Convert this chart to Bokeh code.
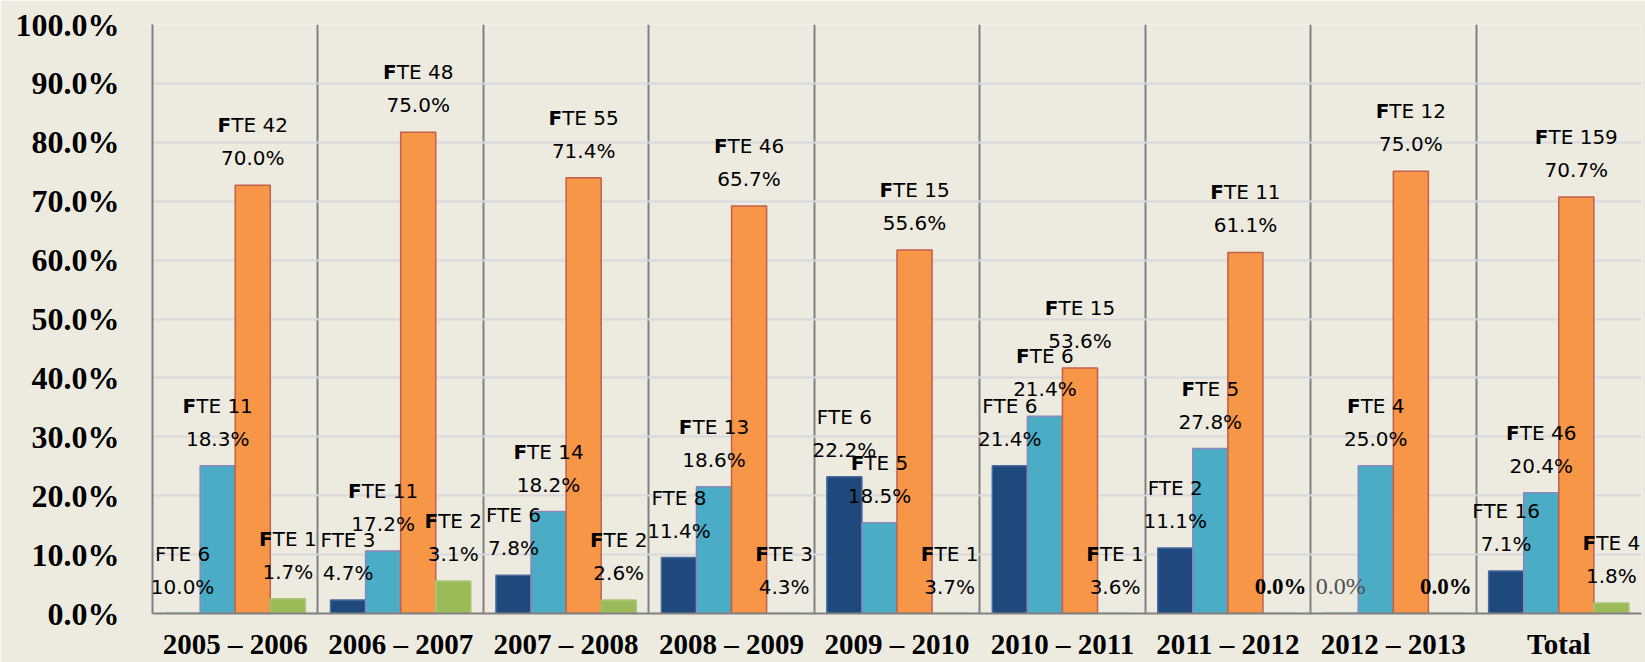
import numpy as np
from bokeh.plotting import figure
from bokeh.models import (ColumnDataSource, LabelSet, Range1d, FixedTicker,
                          PrintfTickFormatter, CustomJSTickFormatter)
from bokeh.core.properties import value
from bokeh.embed import file_html
from bokeh.resources import INLINE

# ---------------- data ----------------
categories = ["2005 – 2006", "2006 – 2007", "2007 – 2008", "2008 – 2009",
              "2009 – 2010", "2010 – 2011", "2011 – 2012", "2012 – 2013", "Total"]

# bar heights (percent) as drawn
dark_bar = [0.0, 2.3, 6.5, 9.5, 23.2, 25.1, 11.1, 0.0, 7.2]
light_bar = [25.1, 10.6, 17.3, 21.5, 15.4, 33.5, 28.0, 25.1, 20.5]
orange_bar = [72.7, 81.7, 74.0, 69.2, 61.7, 41.7, 61.3, 75.1, 70.7]
green_bar = [2.5, 5.5, 2.3, 0.0, 0.0, 0.0, 0.0, 0.0, 1.8]

# data labels
dark_fte = [6, 3, 6, 8, 6, 6, 2, None, 16]
dark_pct = ["10.0%", "4.7%", "7.8%", "11.4%", "22.2%", "21.4%", "11.1%", "0.0%", "7.1%"]
light_fte = [11, 11, 14, 13, 5, 6, 5, 4, 46]
light_pct = ["18.3%", "17.2%", "18.2%", "18.6%", "18.5%", "21.4%", "27.8%", "25.0%", "20.4%"]
orange_fte = [42, 48, 55, 46, 15, 15, 11, 12, 159]
orange_pct = ["70.0%", "75.0%", "71.4%", "65.7%", "55.6%", "53.6%", "61.1%", "75.0%", "70.7%"]
green_fte = [1, 2, 2, 3, 1, 1, None, None, 4]
green_pct = ["1.7%", "3.1%", "2.6%", "4.3%", "3.7%", "3.6%", "0.0%", "0.0%", "1.8%"]

y_ticks = [0, 10, 20, 30, 40, 50, 60, 70, 80, 90, 100]

# ---------------- styling ----------------
BG = "#EDEBE0"
W, H = 1645, 662
BL, BR, BT, BB = 152, 4, 24, 49
FRAME_W = W - BL - BR
PX_PER_X = FRAME_W / len(categories)
BAR_W = 0.212
SANS = "DejaVu Sans"
SANS_SIZE = 20
SERIF = "Liberation Serif"

series = [
    dict(vals=dark_bar, fte=dark_fte, pct=dark_pct, off=-1.5 * BAR_W,
         fill="#1F497D", line="#4A6A9E", boldF=False),
    dict(vals=light_bar, fte=light_fte, pct=light_pct, off=-0.5 * BAR_W,
         fill="#4BACC6", line="#8A87B8", boldF=True),
    dict(vals=orange_bar, fte=orange_fte, pct=orange_pct, off=0.5 * BAR_W,
         fill="#F79646", line="#C0604D", boldF=True),
    dict(vals=green_bar, fte=green_fte, pct=green_pct, off=1.5 * BAR_W,
         fill="#9BBB59", line="#A9C77A", boldF=True),
]

p = figure(width=W, height=H, output_backend="svg", toolbar_location=None,
           x_range=Range1d(0, len(categories)), y_range=Range1d(0, 100),
           min_border_left=BL, min_border_right=BR, min_border_top=BT,
           min_border_bottom=BB)
p.background_fill_color = BG
p.border_fill_color = BG
p.outline_line_color = None

# y axis
p.yaxis.ticker = FixedTicker(ticks=y_ticks)
p.yaxis.formatter = PrintfTickFormatter(format="%.1f%%")
p.yaxis.major_label_text_font = SERIF
p.yaxis.major_label_text_font_style = "bold"
p.yaxis.major_label_text_font_size = "32px"
p.yaxis.major_label_text_color = "#000000"
p.yaxis.major_label_standoff = 33
p.yaxis.major_tick_out = 0
p.yaxis.major_tick_in = 0
p.yaxis.minor_tick_out = 0
p.yaxis.minor_tick_in = 0
p.yaxis.axis_line_color = "#808080"
p.yaxis.axis_line_width = 2

centers = np.arange(len(categories)) + 0.5

# x axis: category names at group centres
p.xaxis.ticker = FixedTicker(ticks=list(centers))
p.xaxis.formatter = CustomJSTickFormatter(args=dict(names=categories),
                                          code="return names[Math.floor(tick)];")
p.xaxis.major_label_text_font = SERIF
p.xaxis.major_label_text_font_style = "bold"
p.xaxis.major_label_text_font_size = "29px"
p.xaxis.major_label_text_color = "#000000"
p.xaxis.major_label_standoff = 14
p.xaxis.major_tick_out = 0
p.xaxis.major_tick_in = 0
p.xaxis.minor_tick_out = 0
p.xaxis.minor_tick_in = 0
p.xaxis.axis_line_color = "#808080"
p.xaxis.axis_line_width = 2

p.ygrid.ticker = FixedTicker(ticks=y_ticks)
p.ygrid.grid_line_color = "#D9D8DC"
p.ygrid.grid_line_width = 2
p.xgrid.ticker = FixedTicker(ticks=list(range(1, len(categories) + 1)))
p.xgrid.grid_line_color = "#808080"
p.xgrid.grid_line_width = 2

# bars
for s in series:
    xs = centers + s["off"]
    p.vbar(x=xs, top=s["vals"], width=BAR_W, bottom=0,
           fill_color=s["fill"], line_color=s["line"], line_width=1.5)

# labels
w_T, w_E, w_sp, w_dig, w_Fb = 0.611, 0.632, 0.318, 0.636, 0.683

plain1 = dict(x=[], y=[], t=[])
boldF = dict(x=[], y=[])
rest = dict(x=[], y=[], t=[])
line2 = dict(x=[], y=[], t=[])
zero_b = dict(x=[], y=[], t=[])
zero_r = dict(x=[], y=[], t=[])

for s in series:
    for i, (v, f, pc) in enumerate(zip(s["vals"], s["fte"], s["pct"])):
        x = centers[i] + s["off"]
        if f is None:
            if s["boldF"]:
                zero_b["x"].append(x); zero_b["y"].append(v); zero_b["t"].append(pc)
            else:
                zero_r["x"].append(x); zero_r["y"].append(v); zero_r["t"].append(pc)
            continue
        line2["x"].append(x); line2["y"].append(v); line2["t"].append(pc)
        if s["boldF"]:
            r = "TE %d" % f
            wR = (w_T + w_E + w_sp + w_dig * len(str(f))) * SANS_SIZE
            wF = w_Fb * SANS_SIZE
            ax = x + ((wF - wR) / 2.0) / PX_PER_X
            boldF["x"].append(ax); boldF["y"].append(v)
            rest["x"].append(ax); rest["y"].append(v); rest["t"].append(r)
        else:
            plain1["x"].append(x); plain1["y"].append(v); plain1["t"].append("FTE %d" % f)

common = dict(text_font=value(SANS), text_font_size=value("%dpx" % SANS_SIZE),
              text_color=value("#000000"), text_baseline="alphabetic")

p.add_layout(LabelSet(x="x", y="y", text="t", source=ColumnDataSource(line2),
                      y_offset=20, text_align="center", **common))
p.add_layout(LabelSet(x="x", y="y", text="t", source=ColumnDataSource(plain1),
                      y_offset=53, text_align="center", **common))
boldF["t"] = ["F"] * len(boldF["x"])
p.add_layout(LabelSet(x="x", y="y", text="t", source=ColumnDataSource(boldF),
                      y_offset=53, text_align="right",
                      text_font_style=value("bold"), **common))
p.add_layout(LabelSet(x="x", y="y", text="t", source=ColumnDataSource(rest),
                      y_offset=53, text_align="left", **common))
p.add_layout(LabelSet(x="x", y="y", text="t", source=ColumnDataSource(zero_b),
                      y_offset=20, text_align="center", text_font=value(SERIF),
                      text_font_style=value("bold"), text_font_size=value("23px"),
                      text_color=value("#000000"), text_baseline="alphabetic"))
p.add_layout(LabelSet(x="x", y="y", text="t", source=ColumnDataSource(zero_r),
                      y_offset=20, text_align="center", text_font=value(SERIF),
                      text_font_size=value("24px"), text_color=value("#505050"),
                      text_baseline="alphabetic"))

open("out.html", "w").write(file_html(p, INLINE))
